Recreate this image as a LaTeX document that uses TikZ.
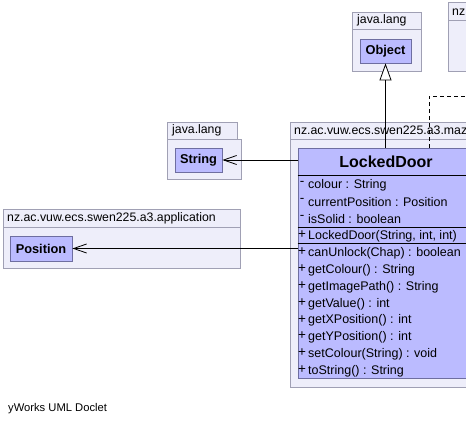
\documentclass[tikz,border=0pt]{standalone}
\usepackage{fontspec}
\setmainfont{Liberation Sans}
\usetikzlibrary{arrows.meta}
\definecolor{pkgfill}{HTML}{EEEEFA}
\definecolor{pkgline}{HTML}{A0A0B4}
\definecolor{clsfill}{HTML}{BBBBFF}
\definecolor{clsline}{HTML}{6E6EA0}
\tikzset{
    pkg/.style = {draw = pkgline, fill = pkgfill, line width = 0.8pt},
    pkglabel/.style = {anchor = west, inner sep = 0pt, font = \fontsize{12.3}{14}\selectfont},
    cls/.style = {draw = clsline, fill = clsfill, line width = 0.8pt, inner sep = 0pt,
        font = \fontsize{12.8}{15}\bfseries},
    member/.style = {anchor = west, inner sep = 0pt, font = \fontsize{12.5}{14}\selectfont},
    vis/.style = {inner sep = 0pt, font = \fontsize{13.5}{15}\selectfont},
    assoc/.style = {line width = 0.8pt, -{Straight Barb[length = 13pt, width = 9pt]}},
    inherit/.style = {line width = 0.8pt, -{Triangle[open, length = 17pt, width = 12pt, fill = white]}},
    realize/.style = {line width = 0.8pt, dash pattern = on 4pt off 3pt}
}
\begin{document}
\begin{tikzpicture}[x = 1pt, y = -1pt]
            \useasboundingbox[fill = white] (0, 0) rectangle (466, 425);

            \draw[pkg] (352, 12) rectangle (421, 29);
            \draw[pkg] (352, 29) rectangle (421, 71);
            \draw[pkg] (448, 2) rectangle (490, 20);
            \draw[pkg] (448, 20) rectangle (490, 71);
            \draw[pkg] (167, 122) rectangle (237, 139);
            \draw[pkg] (167, 139) rectangle (241, 179);
            \draw[pkg] (3, 209) rectangle (240, 227);
            \draw[pkg] (3, 227) rectangle (240, 268);
            \draw[pkg] (290, 122) rectangle (490, 139);
            \draw[pkg] (290, 139) rectangle (481, 387);

            \draw
                (357, 20.5)  node (objpkg) [pkglabel] {java.lang}
                (452, 11)    node (mazepkg) [pkglabel] {nz.ac.vuw.ecs.swen225.a3.maze}
                (172, 130.5) node (strpkg) [pkglabel] {java.lang}
                (7, 218)     node (apppkg) [pkglabel] {nz.ac.vuw.ecs.swen225.a3.application}
                (294, 130.5) node (ldpkg) [pkglabel] {nz.ac.vuw.ecs.swen225.a3.maze}

                (385.5, 51)  node (obj) [cls, minimum width = 51pt, minimum height = 24pt] {Object}
                (198.5, 160) node (str) [cls, minimum width = 47pt, minimum height = 24pt] {String}
                (41, 248.5)  node (pos) [cls, minimum width = 62pt, minimum height = 25pt] {Position}
                (386, 263)   node (ld)  [cls, minimum width = 176pt, minimum height = 230pt] {}
                (386, 162)   node (ldname) [inner sep = 0pt, font = \fontsize{16}{18}\bfseries] {LockedDoor}
            ;

            \draw[black, line width = 0.8pt] (ld.west |- 0, 175.5) -- (ld.east |- 0, 175.5);
            \draw[black, line width = 0.8pt] (ld.west |- 0, 227.5) -- (ld.east |- 0, 227.5);
            \draw[black, line width = 0.8pt] (ld.west |- 0, 243.5) -- (ld.east |- 0, 243.5);

            \draw
                (302, 183.5) node (v1) [vis] {-}   (308, 185)   node (a1) [member] {colour : String}
                (302, 200.5) node (v2) [vis] {-}   (308, 202)   node (a2) [member] {currentPosition : Position}
                (302, 217.5) node (v3) [vis] {-}   (308, 219)   node (a3) [member] {isSolid : boolean}
                (302, 234.5) node (v4) [vis] {+}   (308, 236)   node (c1) [member] {LockedDoor(String, int, int)}
            ;

            \foreach \op [count = \i from 0] in {canUnlock(Chap) : boolean, getColour() : String,
                    getImagePath() : String, getValue() : int, getXPosition() : int,
                    getYPosition() : int, setColour(String) : void, toString() : String}
                \draw (302, 252 + 16.8 * \i) node (v\i) [vis] {+}
                      (308, 253.5 + 16.8 * \i) node (m\i) [member] {\op};

            \draw
                (8, 409) node (credit) [anchor = west, inner sep = 0pt, font = \fontsize{11.2}{13}\selectfont] {yWorks UML Doclet}
            ;

            \coordinate (bend) at (429, 96);
            \coordinate (iface) at (490, 96);

            \draw[inherit] (ld.north -| obj.south) -- (obj.south);
            \draw[assoc] (ld.west |- str) -- (str.east);
            \draw[assoc] (ld.west |- pos) -- (pos.east);
            \draw[realize] (ld.north -| bend) -- (bend) -- (iface);

        \end{tikzpicture}
\end{document}
